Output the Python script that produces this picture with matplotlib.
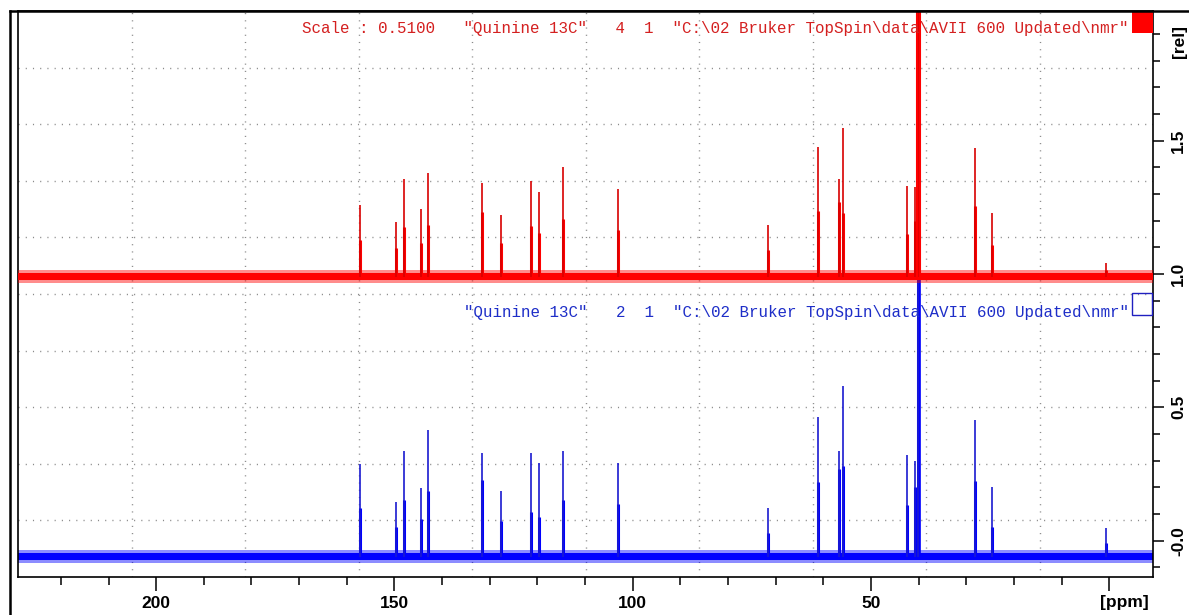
import matplotlib
matplotlib.use("Agg")
import matplotlib.pyplot as plt
from matplotlib.lines import Line2D
from matplotlib.patches import Rectangle
from matplotlib.ticker import FixedLocator, MultipleLocator

# ---------------- data ----------------
# peak positions (ppm)
peak_ppm = [157.2, 149.7, 147.9, 144.4, 143.0, 131.7, 127.6, 121.3, 119.6, 114.7,
            103.1, 71.5, 61.2, 56.6, 55.9, 42.5, 40.7, 40.1, 28.1, 24.6, 0.6]

# red spectrum (scaled 0.51, offset to 1.0): top and shoulder intensities [rel]
red_top = [1.259, 1.196, 1.356, 1.243, 1.378, 1.340, 1.221, 1.350, 1.309, 1.402,
           1.319, 1.184, 1.477, 1.355, 1.546, 1.330, 1.325, 3.000, 1.474, 1.230, 1.040]
red_shoulder = [1.127, 1.097, 1.177, 1.116, 1.184, 1.234, 1.116, 1.180, 1.155, 1.205,
                1.165, 1.090, 1.236, 1.271, 1.230, 1.150, 1.200, 2.500, 1.255, 1.110, 1.015]
red_baseline = 0.99

# blue spectrum: top and shoulder intensities [rel]
blue_top = [0.286, 0.146, 0.337, 0.196, 0.415, 0.328, 0.188, 0.328, 0.290, 0.337,
            0.290, 0.123, 0.464, 0.336, 0.580, 0.321, 0.300, 3.000, 0.453, 0.202, 0.047]
blue_shoulder = [0.121, 0.053, 0.153, 0.080, 0.187, 0.228, 0.074, 0.109, 0.088, 0.153,
                 0.136, 0.030, 0.220, 0.270, 0.280, 0.134, 0.200, 2.500, 0.224, 0.053, -0.010]
blue_baseline = -0.060

x_major = [200, 150, 100, 50, 0]
x_major_labels = ["200", "150", "100", "50", ""]
y_major = [0.0, 0.5, 1.0, 1.5]
y_major_labels = ["-0.0", "0.5", "1.0", "1.5"]

red_label = 'Scale : 0.5100   "Quinine 13C"   4  1  "C:\\02 Bruker TopSpin\\data\\AVII 600 Updated\\nmr"'
blue_label = '"Quinine 13C"   2  1  "C:\\02 Bruker TopSpin\\data\\AVII 600 Updated\\nmr"'

# ---------------- figure ----------------
W, H = 1189, 615
fig = plt.figure(figsize=(W / 100, H / 100), dpi=100)
fig.patch.set_facecolor("white")

ax_l, ax_r, ax_t, ax_b = 18, 1153, 11, 577
ax = fig.add_axes([ax_l / W, 1 - ax_b / H, (ax_r - ax_l) / W, (ax_b - ax_t) / H])

xmin, xmax = 229.0, -9.2
ax.set_xlim(xmin, xmax)
ax.set_ylim(-0.136, 1.986)

# grid: 10 equal divisions each way (dotted)
for k in range(1, 10):
    f = k / 10
    ax.plot([f, f], [0, 1], transform=ax.transAxes, color="#8a8a8a", lw=1.0,
            linestyle=(0, (0.8, 4.4)), zorder=0.5)
    ax.plot([0, 1], [f, f], transform=ax.transAxes, color="#8a8a8a", lw=1.0,
            linestyle=(0, (0.8, 4.4)), zorder=0.5)

RED, RED_D = "#ff0000", "#d80000"
BLUE, BLUE_D = "#0000ff", "#1a1ad0"

def draw_spectrum(base, tops, shoulders, col, col_d, z):
    # noise band around baseline
    ax.fill_between([xmin, xmax], base - 0.024, base + 0.024, color=col, alpha=0.45,
                    lw=0, zorder=z)
    ax.fill_between([xmin, xmax], base - 0.013, base + 0.013, color=col, lw=0, zorder=z)
    # lower, thicker part of each line
    ax.vlines(peak_ppm, base, shoulders, color=col, lw=2.2, zorder=z + 0.1)
    # thin top part
    ax.vlines(peak_ppm, base, tops, color=col_d, lw=1.2, zorder=z + 0.2)

draw_spectrum(blue_baseline, blue_top, blue_shoulder, BLUE, BLUE_D, 2)
draw_spectrum(red_baseline, red_top, red_shoulder, RED, RED_D, 3)

# DMSO column a bit wider
ax.vlines([40.4, 39.8], red_baseline, 3.0, color=RED, lw=1.5, zorder=3.3)
ax.vlines([39.6], blue_baseline, 3.0, color=BLUE, lw=1.2, zorder=2.3)

# spectrum labels
mono = "Liberation Mono"
xt = (1129 - ax_l) / (ax_r - ax_l)
ax.text(xt, 1 - (28 - ax_t) / (ax_b - ax_t), red_label, transform=ax.transAxes,
        ha="right", va="center", family=mono, fontsize=11.4, color="#d42020", zorder=5)
ax.text(xt, 1 - (312 - ax_t) / (ax_b - ax_t), blue_label, transform=ax.transAxes,
        ha="right", va="center", family=mono, fontsize=11.4, color="#1e2ec8", zorder=5)

# legend boxes at right
bw = 21 / (ax_r - ax_l)
ax.add_patch(Rectangle((1 - bw, 1 - 21.5 / (ax_b - ax_t)), bw, 21.5 / (ax_b - ax_t),
                       transform=ax.transAxes, facecolor="red", edgecolor="red",
                       lw=0, zorder=6, clip_on=False))
ax.add_patch(Rectangle((1 - bw, 1 - (315 - ax_t) / (ax_b - ax_t)), bw - 0.0005,
                       22 / (ax_b - ax_t), transform=ax.transAxes, facecolor="none",
                       edgecolor="#2020c0", lw=1.0, zorder=6, clip_on=False))

# axes frame and ticks
for s in ax.spines.values():
    s.set_linewidth(1.2)
    s.set_color("black")

ax.xaxis.set_major_locator(FixedLocator(x_major))
ax.set_xticklabels(x_major_labels)
ax.xaxis.set_minor_locator(MultipleLocator(10))
ax.tick_params(axis="x", which="major", direction="out", length=10, width=1.1,
               pad=4, labelsize=12.5)
ax.tick_params(axis="x", which="minor", direction="out", length=5.5, width=1.1)
for lab in ax.get_xticklabels():
    lab.set_fontweight("bold")
    lab.set_family("Liberation Sans")

ax.yaxis.tick_right()
ax.yaxis.set_major_locator(FixedLocator(y_major))
ax.set_yticklabels(y_major_labels, rotation=90, va="center")
ax.yaxis.set_minor_locator(MultipleLocator(0.1))
ax.tick_params(axis="y", which="major", direction="out", length=8, width=1.1,
               pad=5, labelsize=12.5, left=False, right=True)
ax.tick_params(axis="y", which="minor", direction="out", length=5, width=1.1,
               left=False, right=True)
for lab in ax.get_yticklabels():
    lab.set_fontweight("bold")
    lab.set_family("Liberation Sans")

ax.text(1179 / W, 1 - 603 / H, "", transform=fig.transFigure)
fig.text(1124 / W, 1 - 603 / H, "[ppm]", ha="center", va="center",
         fontsize=12.5, fontweight="bold", family="Liberation Sans")
fig.text(1179 / W, 1 - 42 / H, "[rel]", ha="center", va="center", rotation=90,
         fontsize=12.5, fontweight="bold", family="Liberation Sans")

# outer window frame lines
fig.add_artist(Line2D([10 / W, 1.0], [1 - 11 / H, 1 - 11 / H], color="black", lw=1.8,
                      transform=fig.transFigure))
fig.add_artist(Line2D([10 / W, 10 / W], [0, 1 - 11 / H], color="black", lw=1.8,
                      transform=fig.transFigure))

fig.savefig("out.png", dpi=100, facecolor="white")
